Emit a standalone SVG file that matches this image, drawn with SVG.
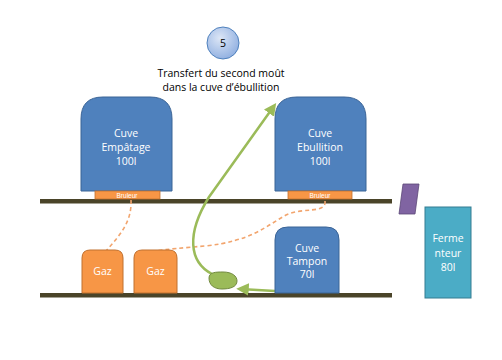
<svg xmlns="http://www.w3.org/2000/svg" width="502" height="360" viewBox="0 0 502 360">
<defs>
<style>
.shelf{fill:#4A4429}
.cuve{fill:#4F81BD;stroke:#3B6496;stroke-width:1}
.burner{fill:#F79646;stroke:#C0702F;stroke-width:0.8}
.gaz{fill:#F79646;stroke:#C0702F;stroke-width:1}
.wt{fill:#fff;font-family:"Open Sans","Liberation Sans",sans-serif;font-size:10.5px;text-anchor:middle}
.bt{fill:#fff;font-family:"Liberation Sans",sans-serif;font-size:6.5px;text-anchor:middle}
.kt{fill:#000;font-family:"Open Sans","Liberation Sans",sans-serif;font-size:10.5px;text-anchor:middle}
.dash{fill:none;stroke:#F2A56E;stroke-width:1.6;stroke-dasharray:4 3}
.flow{fill:none;stroke:#9BBB59;stroke-width:2.5}
</style>
<radialGradient id="g5" cx="0.4" cy="0.35" r="0.7">
<stop offset="0" stop-color="#DCE6F6"/>
<stop offset="1" stop-color="#8EAEE0"/>
</radialGradient>
<marker id="ah" markerWidth="5" markerHeight="5" refX="3.5" refY="2.5" orient="auto" markerUnits="strokeWidth">
<path d="M0,0 L5,2.5 L0,5 z" fill="#9BBB59"/>
</marker>
</defs>
<rect width="502" height="360" fill="#fff"/>
<g id="shelves">
<rect class="shelf" x="40" y="199" width="352" height="4.5"/>
<rect class="shelf" x="40" y="293" width="352" height="4.5"/>
</g>
<g id="step5">
<circle cx="223" cy="43" r="16" fill="url(#g5)" stroke="#4F81BD" stroke-width="1"/>
<text class="kt" x="223" y="47">5</text>
<text class="kt" x="221" y="77">Transfert du second moût</text>
<text class="kt" x="221" y="91">dans la cuve d’ébullition</text>
</g>
<g id="connectors">
<path class="dash" d="M131,200 C132,222 120,235 106,251"/>
<path class="dash" d="M325,201 C327,214 302,207 286,215 C266,226 252,241 205,246 C182,248 168,249 155,251"/>
<path class="flow" d="M212,274 C189,262 186,234 209,197 L274,106" marker-end="url(#ah)"/>
<path class="flow" d="M275,291 L240,289" marker-end="url(#ah)"/>
</g>
<g id="cuve-empatage">
<path class="cuve" d="M81,191 V119 Q81,97 103,97 H150 Q172,97 172,119 V191 Z"/>
<text class="wt" x="126" y="137">Cuve</text>
<text class="wt" x="126" y="151">Empâtage</text>
<text class="wt" x="126" y="165">100l</text>
</g>
<g id="bruleur-1">
<rect class="burner" x="95" y="191" width="65" height="8"/>
<text class="bt" x="127" y="197.5">Bruleur</text>
</g>
<g id="cuve-ebullition">
<path class="cuve" d="M275,191 V119 Q275,97 297,97 H344 Q366,97 366,119 V191 Z"/>
<text class="wt" x="320" y="137">Cuve</text>
<text class="wt" x="320" y="151">Ebullition</text>
<text class="wt" x="320" y="165">100l</text>
</g>
<g id="bruleur-2">
<rect class="burner" x="288" y="191" width="64" height="8"/>
<text class="bt" x="320" y="197.5">Bruleur</text>
</g>
<g id="gaz-1">
<path class="gaz" d="M82,293 V258 Q82,250 90,250 H115 Q123,250 123,258 V293 Z"/>
<text class="wt" x="102.5" y="275">Gaz</text>
</g>
<g id="gaz-2">
<path class="gaz" d="M134,293 V258 Q134,250 142,250 H169 Q177,250 177,258 V293 Z"/>
<text class="wt" x="155.5" y="275">Gaz</text>
</g>
<g id="cuve-tampon">
<path class="cuve" d="M275,293 V240 Q275,227 288,227 H326 Q339,227 339,240 V293 Z"/>
<text class="wt" x="307" y="252">Cuve</text>
<text class="wt" x="307" y="265">Tampon</text>
<text class="wt" x="307" y="278">70l</text>
</g>
<g id="pompe">
<path d="M209,278 C209,272 216,272 223,272 C232,272 237,276 237,281 C237,287 230,289 222,289 C214,289 209,285 209,278 Z" fill="#9BBB59" stroke="#71893F" stroke-width="1"/>
</g>
<g id="vanne">
<polygon points="403,184 419,184 415,214 399,214" fill="#8064A2" stroke="#5C4776" stroke-width="0.8"/>
</g>
<g id="fermenteur">
<rect x="425" y="207" width="46" height="91" fill="#4BACC6" stroke="#357D91" stroke-width="1"/>
<text class="wt" x="448" y="242">Ferme</text>
<text class="wt" x="448" y="257">nteur</text>
<text class="wt" x="448" y="271">80l</text>
</g>
</svg>
